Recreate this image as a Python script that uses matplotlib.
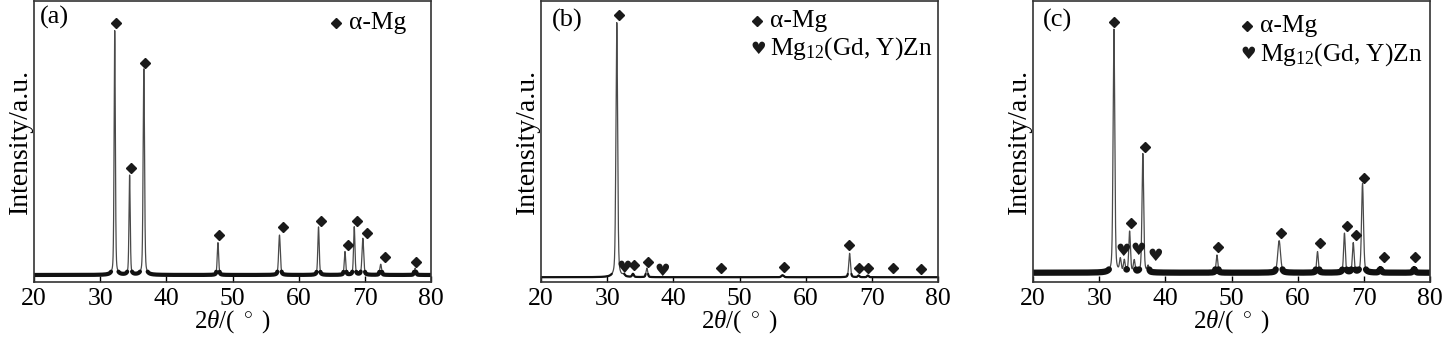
import numpy as np
import matplotlib
matplotlib.use("Agg")
import matplotlib.pyplot as plt

plt.rcParams['font.family'] = ['Liberation Serif', 'DejaVu Sans']
plt.rcParams['mathtext.fontset'] = 'custom'
plt.rcParams['mathtext.rm'] = 'Liberation Serif'
plt.rcParams['mathtext.it'] = 'Liberation Serif:italic'

# peak lists: 2theta (deg), peak top (a.u.), FWHM (deg)
a_base = 2.5
a_pos = [32.2, 34.45, 36.6, 47.8, 57.1, 63.0, 67.0, 68.4, 69.7, 72.4, 77.6]
a_top = [89.4, 37.9, 75.8, 14.0, 16.7, 19.6, 10.8, 19.6, 15.5, 6.3, 4.9]
a_fwhm = [0.22, 0.22, 0.25, 0.25, 0.3, 0.25, 0.25, 0.25, 0.3, 0.3, 0.3]
a_dia_x = [32.4, 34.7, 36.8, 48.0, 57.6, 63.4, 67.4, 68.8, 70.3, 73.0, 77.8]
a_dia_y = [92.1, 40.4, 78.0, 16.7, 19.6, 21.7, 13.1, 21.6, 17.6, 9.0, 7.2]
a_hrt_x = []
a_hrt_y = []

b_base = 1.7
b_pos = [31.45, 32.5, 33.9, 36.0, 56.5, 66.64, 68.0, 69.4]
b_top = [92.3, 2.4, 2.8, 4.9, 2.4, 10.2, 2.3, 2.3]
b_fwhm = [0.3, 0.4, 0.3, 0.3, 0.4, 0.3, 0.3, 0.3]
b_dia_x = [31.8, 34.1, 36.2, 47.2, 56.65, 66.5, 68.0, 69.4, 73.2, 77.5]
b_dia_y = [94.9, 6.0, 7.2, 4.9, 5.2, 13.1, 4.9, 4.9, 4.9, 4.6]
b_hrt_x = [32.55, 38.4]
b_hrt_y = [5.1, 4.0]

c_base = 3.3
c_pos = [32.23, 33.2, 33.8, 34.6, 35.3, 36.6, 37.4, 47.8, 57.2, 63.0, 67.07, 68.4, 69.8, 72.5, 77.6]
c_top = [89.9, 7.8, 7.5, 17.8, 7.5, 45.6, 5.5, 9.6, 14.7, 10.8, 17.3, 13.8, 35.0, 4.5, 4.5]
c_fwhm = [0.3, 0.3, 0.3, 0.3, 0.3, 0.3, 0.3, 0.3, 0.5, 0.3, 0.3, 0.3, 0.35, 0.4, 0.4]
c_dia_x = [32.28, 34.85, 36.96, 47.94, 57.5, 63.3, 67.42, 68.8, 70.1, 73.06, 77.74]
c_dia_y = [92.6, 20.9, 48.2, 12.5, 17.3, 13.9, 19.9, 16.7, 37.0, 8.8, 8.8]
c_hrt_x = [33.6, 35.86, 38.5]
c_hrt_y = [11.1, 11.3, 9.2]

panels = [
    ('(a)', a_base, a_pos, a_top, a_fwhm, a_dia_x, a_dia_y, a_hrt_x, a_hrt_y, 3.0),
    ('(b)', b_base, b_pos, b_top, b_fwhm, b_dia_x, b_dia_y, b_hrt_x, b_hrt_y, 1.6),
    ('(c)', c_base, c_pos, c_top, c_fwhm, c_dia_x, c_dia_y, c_hrt_x, c_hrt_y, 4.5),
]
lefts = [34, 541, 1033]
label_xy = [(0.015, 0.94), (0.028, 0.932), (0.025, 0.932)]
legend_xy = [(0.761, 0.922), (0.544, 0.929), (0.539, 0.911)]


def profile(x, pos, top, fwhm, base, eta=0.35):
    y = np.full_like(x, base)
    for p, t, w in zip(pos, top, fwhm):
        d = (x - p) / w
        lor = 1.0 / (1.0 + 4.0 * d ** 2)
        gau = np.exp(-4.0 * np.log(2) * d ** 2)
        y += (t - base) * (eta * lor + (1 - eta) * gau)
    return y


x = np.linspace(20, 80, 6001)
fig = plt.figure(figsize=(14.43, 3.37), dpi=100)

for i, (lab, base, pos, top, fwhm, dx, dy, hx, hy, band) in enumerate(panels):
    ax = fig.add_axes([lefts[i] / 1443, 55 / 337, 397 / 1443, 281 / 337])
    y = profile(x, pos, top, fwhm, base)
    ax.plot(x, y, color='#4a4a4a', lw=0.9)
    # noisy baseline drawn as a thicker band
    yb = np.where(y - base < 1.2, y, np.nan)
    ax.plot(x, yb, color='#111111', lw=band, solid_capstyle='round')

    ax.plot(dx, dy, 'D', color='#1a1a1a', ms=5.4, ls='none')
    for hxx, hyy in zip(hx, hy):
        ax.text(hxx, hyy, '\u2665', family='DejaVu Sans', fontsize=12.5,
                ha='center', va='center', color='#1a1a1a')

    ax.set_xlim(20, 80)
    ax.set_ylim(0, 100)
    ax.set_xticks(range(20, 81, 10))
    ax.set_yticks([])
    ax.tick_params(axis='x', direction='in', length=4, width=1, labelsize=18.5, pad=4)
    for s in ax.spines.values():
        s.set_linewidth(1.2)
        s.set_color('#333333')
    ax.set_xlabel(r'2$\theta$/( $^\circ$ )', fontsize=18, labelpad=-1)
    ax.set_ylabel('Intensity/a.u.', fontsize=20, labelpad=1)

    ax.text(label_xy[i][0], label_xy[i][1], lab, transform=ax.transAxes,
            fontsize=19, va='center', ha='left')
    lx, ly = legend_xy[i]
    ax.plot([lx], [ly], 'D', color='#1a1a1a', ms=5, transform=ax.transAxes)
    ax.text(lx + 0.033, ly, '\u03b1-Mg', transform=ax.transAxes,
            fontsize=18.3, va='center', ha='left')
    if hx:
        ax.text(lx + 0.003, ly - 0.1, '\u2665', family='DejaVu Sans', fontsize=12.5,
                transform=ax.transAxes, ha='center', va='center', color='#1a1a1a')
        ax.text(lx + 0.033, ly - 0.1, r'Mg$_{12}$(Gd, Y)Zn', transform=ax.transAxes,
                fontsize=18.3, va='center', ha='left')

fig.savefig('out.png', dpi=100)
